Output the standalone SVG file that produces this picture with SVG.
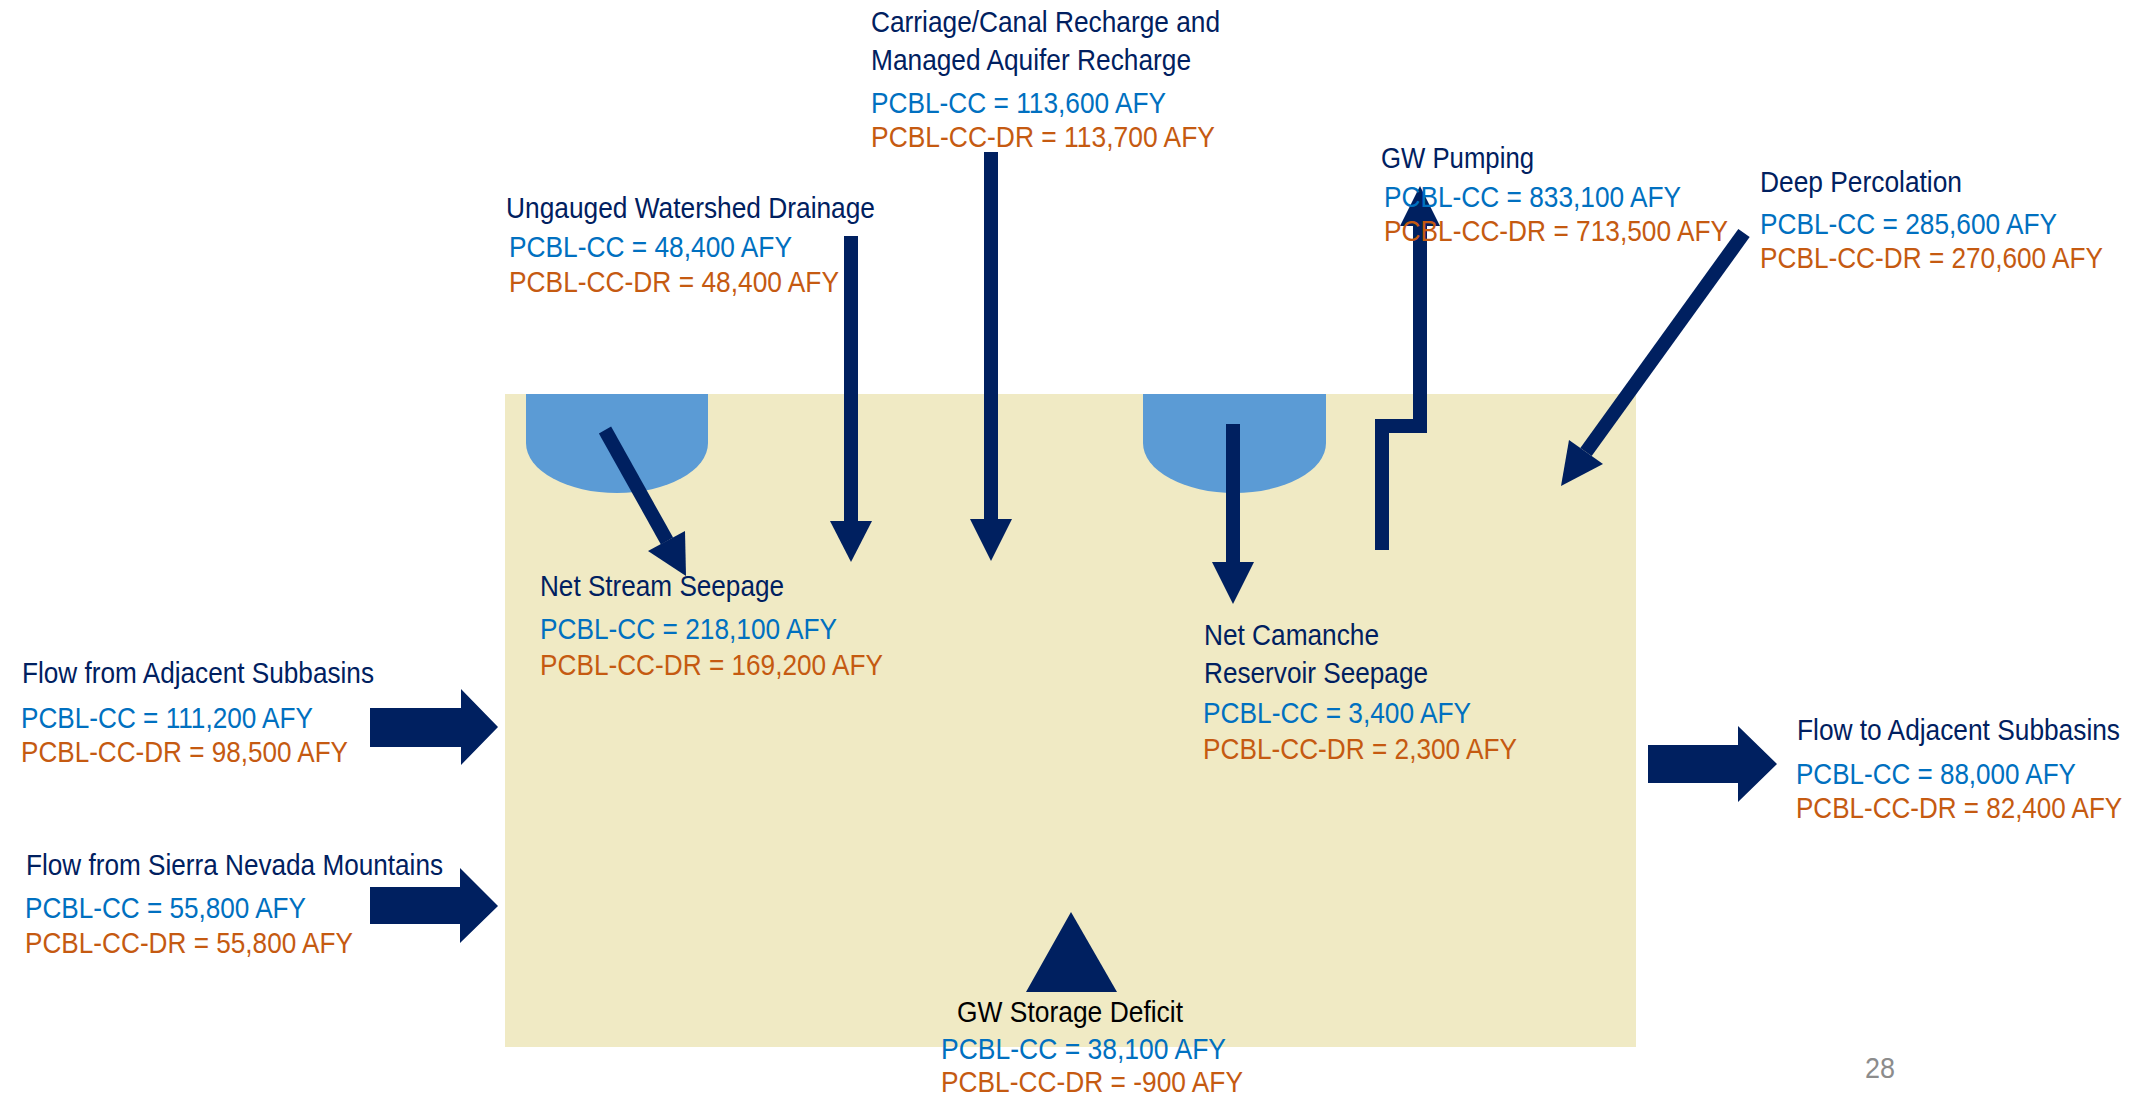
<svg xmlns="http://www.w3.org/2000/svg" width="2152" height="1095" viewBox="0 0 2152 1095">
<style>
text{font-family:"Liberation Sans Narrow","Liberation Sans",Arial,sans-serif;font-size:30px}
.t{fill:#002060}
.k{fill:#000000}
.b{fill:#0070C0}
.o{fill:#C55A11}
.g{fill:#8C8C8C}
.shaft{stroke:#002060;stroke-width:14;fill:none;stroke-linecap:butt;stroke-linejoin:miter}
.head{fill:#002060}
.bowl{fill:#5B9BD5}
</style>
<rect width="2152" height="1095" fill="#FFFFFF"/>
<g id="aquifer">
<rect x="505" y="394" width="1131" height="653" fill="#F0EAC4"/>
</g>
<g id="stream-bowl">
<path class="bowl" d="M526,394 H708 V443 A91,50 0 0 1 526,443 Z"/>
</g>
<g id="reservoir-bowl">
<path class="bowl" d="M1143,394 H1326 V443 A91.5,50 0 0 1 1143,443 Z"/>
</g>
<g id="connectors">
<line class="shaft" x1="605" y1="430" x2="667" y2="541"/>
<polygon class="head" points="685,531 648,551 686,576"/>
<line class="shaft" x1="851" y1="236" x2="851" y2="522"/>
<polygon class="head" points="830,521 872,521 851,562"/>
<line class="shaft" x1="991" y1="152" x2="991" y2="520"/>
<polygon class="head" points="970,519 1012,519 991,561"/>
<line class="shaft" x1="1233" y1="424" x2="1233" y2="563"/>
<polygon class="head" points="1212,562 1254,562 1233,604"/>
<path class="shaft" d="M1382,550 V426 H1420 V224"/>
<polygon class="head" points="1400,226 1440,226 1420,186"/>
<line class="shaft" x1="1744" y1="233" x2="1586" y2="452"/>
<polygon class="head" points="1603,464 1569,440 1561,486"/>
<polygon class="head" points="370,708 461,708 461,689 498,727 461,765 461,747 370,747"/>
<polygon class="head" points="370,887 460,887 460,868 498,906 460,943 460,924 370,924"/>
<polygon class="head" points="1648,745 1738,745 1738,726 1777,764 1738,802 1738,783 1648,783"/>
<polygon class="head" points="1071,912 1117,992 1026,992"/>
</g>
<g id="carriage-label">
<text class="t" x="871" y="32" textLength="349" lengthAdjust="spacingAndGlyphs">Carriage/Canal Recharge and</text>
<text class="t" x="871" y="70" textLength="320" lengthAdjust="spacingAndGlyphs">Managed Aquifer Recharge</text>
<text class="b" x="871" y="113" textLength="295" lengthAdjust="spacingAndGlyphs">PCBL-CC = 113,600 AFY</text>
<text class="o" x="871" y="147" textLength="344" lengthAdjust="spacingAndGlyphs">PCBL-CC-DR = 113,700 AFY</text>
</g>
<g id="ungauged-label">
<text class="t" x="506" y="218" textLength="369" lengthAdjust="spacingAndGlyphs">Ungauged Watershed Drainage</text>
<text class="b" x="509" y="257" textLength="283" lengthAdjust="spacingAndGlyphs">PCBL-CC = 48,400 AFY</text>
<text class="o" x="509" y="292" textLength="330" lengthAdjust="spacingAndGlyphs">PCBL-CC-DR = 48,400 AFY</text>
</g>
<g id="pumping-label">
<text class="t" x="1381" y="168" textLength="153" lengthAdjust="spacingAndGlyphs">GW Pumping</text>
<text class="b" x="1384" y="207" textLength="297" lengthAdjust="spacingAndGlyphs">PCBL-CC = 833,100 AFY</text>
<text class="o" x="1384" y="241" textLength="344" lengthAdjust="spacingAndGlyphs">PCBL-CC-DR = 713,500 AFY</text>
</g>
<g id="percolation-label">
<text class="t" x="1760" y="192" textLength="202" lengthAdjust="spacingAndGlyphs">Deep Percolation</text>
<text class="b" x="1760" y="234" textLength="297" lengthAdjust="spacingAndGlyphs">PCBL-CC = 285,600 AFY</text>
<text class="o" x="1760" y="268" textLength="343" lengthAdjust="spacingAndGlyphs">PCBL-CC-DR = 270,600 AFY</text>
</g>
<g id="stream-label">
<text class="t" x="540" y="596" textLength="244" lengthAdjust="spacingAndGlyphs">Net Stream Seepage</text>
<text class="b" x="540" y="639" textLength="297" lengthAdjust="spacingAndGlyphs">PCBL-CC = 218,100 AFY</text>
<text class="o" x="540" y="675" textLength="343" lengthAdjust="spacingAndGlyphs">PCBL-CC-DR = 169,200 AFY</text>
</g>
<g id="camanche-label">
<text class="t" x="1204" y="645" textLength="175" lengthAdjust="spacingAndGlyphs">Net Camanche</text>
<text class="t" x="1204" y="683" textLength="224" lengthAdjust="spacingAndGlyphs">Reservoir Seepage</text>
<text class="b" x="1203" y="723" textLength="268" lengthAdjust="spacingAndGlyphs">PCBL-CC = 3,400 AFY</text>
<text class="o" x="1203" y="759" textLength="314" lengthAdjust="spacingAndGlyphs">PCBL-CC-DR = 2,300 AFY</text>
</g>
<g id="adjacent-in-label">
<text class="t" x="22" y="683" textLength="352" lengthAdjust="spacingAndGlyphs">Flow from Adjacent Subbasins</text>
<text class="b" x="21" y="728" textLength="292" lengthAdjust="spacingAndGlyphs">PCBL-CC = 111,200 AFY</text>
<text class="o" x="21" y="762" textLength="327" lengthAdjust="spacingAndGlyphs">PCBL-CC-DR = 98,500 AFY</text>
</g>
<g id="sierra-label">
<text class="t" x="26" y="875" textLength="417" lengthAdjust="spacingAndGlyphs">Flow from Sierra Nevada Mountains</text>
<text class="b" x="25" y="918" textLength="281" lengthAdjust="spacingAndGlyphs">PCBL-CC = 55,800 AFY</text>
<text class="o" x="25" y="953" textLength="328" lengthAdjust="spacingAndGlyphs">PCBL-CC-DR = 55,800 AFY</text>
</g>
<g id="adjacent-out-label">
<text class="t" transform="translate(1797,740) scale(0.873,1)" textLength="370" lengthAdjust="spacingAndGlyphs">Flow to Adjacent Subbasins</text>
<text class="b" transform="translate(1796,784) scale(0.864,1)" textLength="324" lengthAdjust="spacingAndGlyphs">PCBL-CC = 88,000 AFY</text>
<text class="o" transform="translate(1796,818) scale(0.863,1)" textLength="378" lengthAdjust="spacingAndGlyphs">PCBL-CC-DR = 82,400 AFY</text>
</g>
<g id="storage-label">
<text class="k" x="957" y="1022" textLength="226" lengthAdjust="spacingAndGlyphs">GW Storage Deficit</text>
<text class="b" x="941" y="1059" textLength="285" lengthAdjust="spacingAndGlyphs">PCBL-CC = 38,100 AFY</text>
<text class="o" x="941" y="1092" textLength="302" lengthAdjust="spacingAndGlyphs">PCBL-CC-DR = -900 AFY</text>
</g>
<g id="page-number">
<text class="g" x="1865" y="1078" textLength="30" lengthAdjust="spacingAndGlyphs">28</text>
</g>
</svg>
